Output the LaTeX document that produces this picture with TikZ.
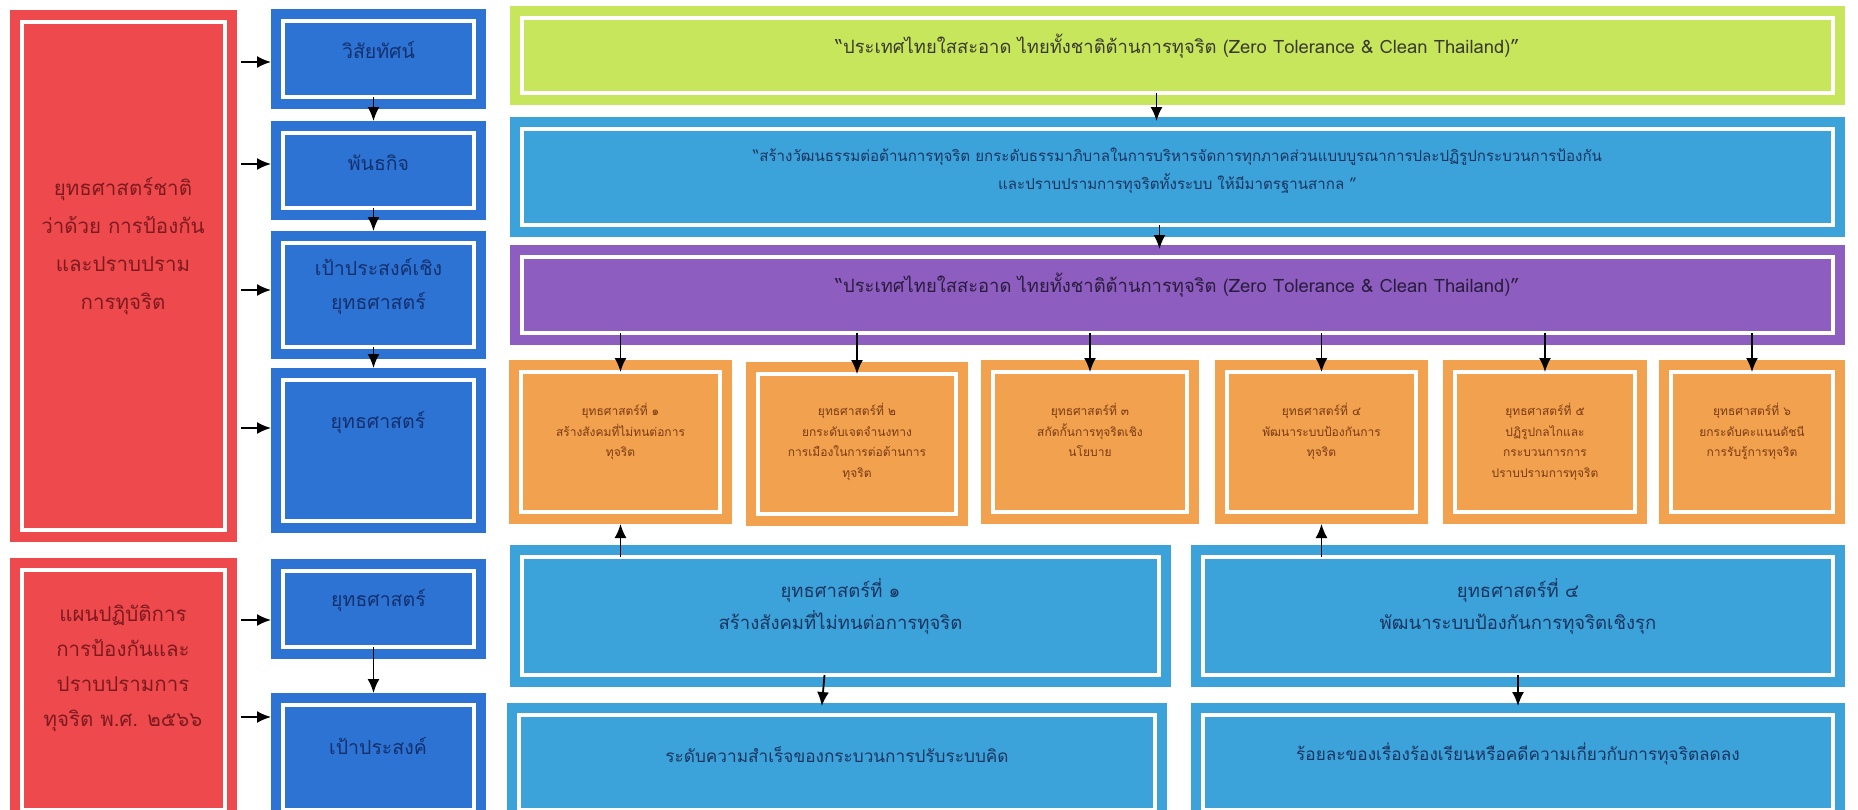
\documentclass[tikz,border=0pt]{standalone}
\usepackage{fontspec}
\newfontfamily\thai[Script=Thai]{Loma}
\usetikzlibrary{arrows.meta,fit}
\definecolor{cred}{HTML}{EE4A4E}
\definecolor{cblue}{HTML}{2D73D3}
\definecolor{cgreen}{HTML}{C8E65C}
\definecolor{csky}{HTML}{3BA2DA}
\definecolor{cpurple}{HTML}{8D5DBF}
\definecolor{corange}{HTML}{F2A24E}
\definecolor{tred}{HTML}{7E1A1E}
\definecolor{tnavy}{HTML}{14306E}
\definecolor{tgrey}{HTML}{3A3A30}
\definecolor{tsky}{HTML}{1C3560}
\definecolor{tpur}{HTML}{2A1C3E}
\definecolor{torg}{HTML}{7A3A14}
\tikzset{
  framed/.style={fill=#1, draw=white, line width=3.5pt,
    preaction={draw=#1, line width=24pt},
    inner sep=0pt, outer sep=0pt, align=center},
  arr/.style={-{Latex[length=14pt,width=12pt]}, line width=1.8pt, black},
  big/.style={font=\thai\fontsize{19.5}{38}\selectfont},
  mid/.style={font=\thai\fontsize{18.4}{30}\selectfont},
  small/.style={font=\thai\fontsize{12}{20.5}\selectfont, align=center},
}
\newcommand\bx[7]{\node[#6, fit={(#2+12,#3+12) (#4-12,#5-12)}] (#1) {#7};}
\begin{document}
\begin{tikzpicture}[x=1pt,y=-1pt]
\useasboundingbox (0,0) rectangle (1858,809);
\clip (0,0) rectangle (1858,809);
\fill[white] (0,0) rectangle (1858,809);

% left red boxes
\bx{r1}{10}{10}{237}{542}{framed=cred}{}
\node[text=tred, align=center, font=\thai\fontsize{20.5}{38}\selectfont] (r1t) at (123,246) {ยุทธศาสตร์ชาติ\\ว่าด้วย การป้องกัน\\และปราบปราม\\การทุจริต};
\bx{r2}{10}{558}{237}{822}{framed=cred}{}
\node[text=tred, align=center, font=\thai\fontsize{20.5}{35}\selectfont] (r2t) at (123,668) {แผนปฏิบัติการ\\การป้องกันและ\\ปราบปรามการ\\ทุจริต พ.ศ. ๒๕๖๖};

% left blue boxes
\bx{b1}{271}{9}{486}{109}{framed=cblue,big,text=tnavy}{วิสัยทัศน์}
\bx{b2}{271}{121}{486}{220}{framed=cblue,big,text=tnavy}{พันธกิจ}
\bx{b3}{271}{231}{486}{359}{framed=cblue,text=tnavy,font=\thai\fontsize{19.5}{34}\selectfont}{เป้าประสงค์เชิง\\ยุทธศาสตร์}
\bx{b4}{271}{368}{486}{533}{framed=cblue}{}
\node[big, text=tnavy] (b4t) at (378,422) {ยุทธศาสตร์};
\bx{b5}{271}{559}{486}{659}{framed=cblue,big,text=tnavy}{ยุทธศาสตร์}
\bx{b6}{271}{693}{486}{822}{framed=cblue}{}
\node[big, text=tnavy] (b6t) at (378,746) {เป้าประสงค์};

% red -> blue arrows
\draw[arr, shorten <=16pt] (r1.east |- 0,62) -- ([xshift=-12pt]b1.west |- 0,62);
\draw[arr, shorten <=16pt] (r1.east |- 0,164) -- ([xshift=-12pt]b2.west |- 0,164);
\draw[arr, shorten <=16pt] (r1.east |- 0,290) -- ([xshift=-12pt]b3.west |- 0,290);
\draw[arr, shorten <=16pt] (r1.east |- 0,428) -- ([xshift=-12pt]b4.west |- 0,428);
\draw[arr, shorten <=16pt] (r2.east |- 0,620) -- ([xshift=-12pt]b5.west |- 0,620);
\draw[arr, shorten <=16pt] (r2.east |- 0,717) -- ([xshift=-12pt]b6.west |- 0,717);

% blue column arrows
\draw[arr, shorten >=12pt] ([xshift=-5pt]b1.south) -- ([xshift=-5pt]b2.north);
\draw[arr, shorten >=12pt] ([xshift=-5pt]b2.south) -- ([xshift=-5pt]b3.north);
\draw[arr, shorten >=12pt] ([xshift=-5pt]b3.south) -- ([xshift=-5pt]b4.north);
\draw[arr, shorten >=12pt] ([xshift=-5pt]b5.south) -- ([xshift=-5pt]b6.north);

% right side
\bx{gr}{510}{6}{1845}{105}{framed=cgreen,mid,text=tgrey}{“ประเทศไทยใสสะอาด ไทยทั้งชาติต้านการทุจริต (Zero Tolerance \& Clean Thailand)”}
\bx{mi}{510}{117}{1845}{237}{framed=csky,text=tsky,font=\thai\fontsize{15.1}{28}\selectfont}{“สร้างวัฒนธรรมต่อต้านการทุจริต ยกระดับธรรมาภิบาลในการบริหารจัดการทุกภาคส่วนแบบบูรณาการปละปฏิรูปกระบวนการป้องกัน\\และปราบปรามการทุจริตทั้งระบบ ให้มีมาตรฐานสากล ”}
\bx{pu}{510}{245}{1845}{345}{framed=cpurple,mid,text=tpur}{“ประเทศไทยใสสะอาด ไทยทั้งชาติต้านการทุจริต (Zero Tolerance \& Clean Thailand)”}

\draw[arr, shorten >=8pt] ([xshift=-21pt]gr.south) -- ([xshift=-21pt]mi.north);
\draw[arr, shorten >=8pt] ([xshift=-18pt]mi.south) -- ([xshift=-18pt]pu.north);

% orange boxes
\bx{o1}{509}{360}{732}{524}{framed=corange}{}
\bx{o2}{746}{362}{968}{526}{framed=corange}{}
\bx{o3}{981}{360}{1199}{524}{framed=corange}{}
\bx{o4}{1215}{360}{1428}{524}{framed=corange}{}
\bx{o5}{1443}{360}{1647}{524}{framed=corange}{}
\bx{o6}{1659}{360}{1845}{524}{framed=corange}{}
\node[small, text=torg, anchor=north] (o1t) at (o1.north |- 0,400) {ยุทธศาสตร์ที่ ๑\\สร้างสังคมที่ไม่ทนต่อการ\\ทุจริต};
\node[small, text=torg, anchor=north] (o2t) at (o2.north |- 0,400) {ยุทธศาสตร์ที่ ๒\\ยกระดับเจตจำนงทาง\\การเมืองในการต่อต้านการ\\ทุจริต};
\node[small, text=torg, anchor=north] (o3t) at (o3.north |- 0,400) {ยุทธศาสตร์ที่ ๓\\สกัดกั้นการทุจริตเชิง\\นโยบาย};
\node[small, text=torg, anchor=north] (o4t) at (o4.north |- 0,400) {ยุทธศาสตร์ที่ ๔\\พัฒนาระบบป้องกันการ\\ทุจริต};
\node[small, text=torg, anchor=north] (o5t) at (o5.north |- 0,400) {ยุทธศาสตร์ที่ ๕\\ปฏิรูปกลไกและ\\กระบวนการการ\\ปราบปรามการทุจริต};
\node[small, text=torg, anchor=north] (o6t) at (o6.north |- 0,400) {ยุทธศาสตร์ที่ ๖\\ยกระดับคะแนนดัชนี\\การรับรู้การทุจริต};

\foreach \o in {o1,o2,o3,o4,o5,o6}
  \draw[arr] (\o.north |- pu.south) -- (\o.north);

% lower blue boxes
\bx{lb1}{510}{545}{1171}{687}{framed=csky,text=tsky,font=\thai\fontsize{18.5}{32}\selectfont}{ยุทธศาสตร์ที่ ๑\\สร้างสังคมที่ไม่ทนต่อการทุจริต}
\bx{lb2}{1191}{545}{1845}{687}{framed=csky,text=tsky,font=\thai\fontsize{18.5}{32}\selectfont}{ยุทธศาสตร์ที่ ๔\\พัฒนาระบบป้องกันการทุจริตเชิงรุก}
\bx{bt1}{507}{703}{1167}{822}{framed=csky,text=tsky,font=\thai\fontsize{17.2}{30}\selectfont}{ระดับความสำเร็จของกระบวนการปรับระบบคิด}
\bx{bt2}{1191}{703}{1845}{822}{framed=csky,text=tsky,font=\thai\fontsize{17.2}{30}\selectfont}{ร้อยละของเรื่องร้องเรียนหรือคดีความเกี่ยวกับการทุจริตลดลง}

\draw[arr, shorten >=12pt] (o1.south |- lb1.north) -- (o1.south);
\draw[arr, shorten >=12pt] (o4.south |- lb2.north) -- (o4.south);
\draw[arr, shorten >=9pt] ([xshift=-16pt]lb1.south) -- ([xshift=-16pt]bt1.north);
\draw[arr, shorten >=9pt] (lb2.south) -- (bt2.north);
\end{tikzpicture}
\end{document}
